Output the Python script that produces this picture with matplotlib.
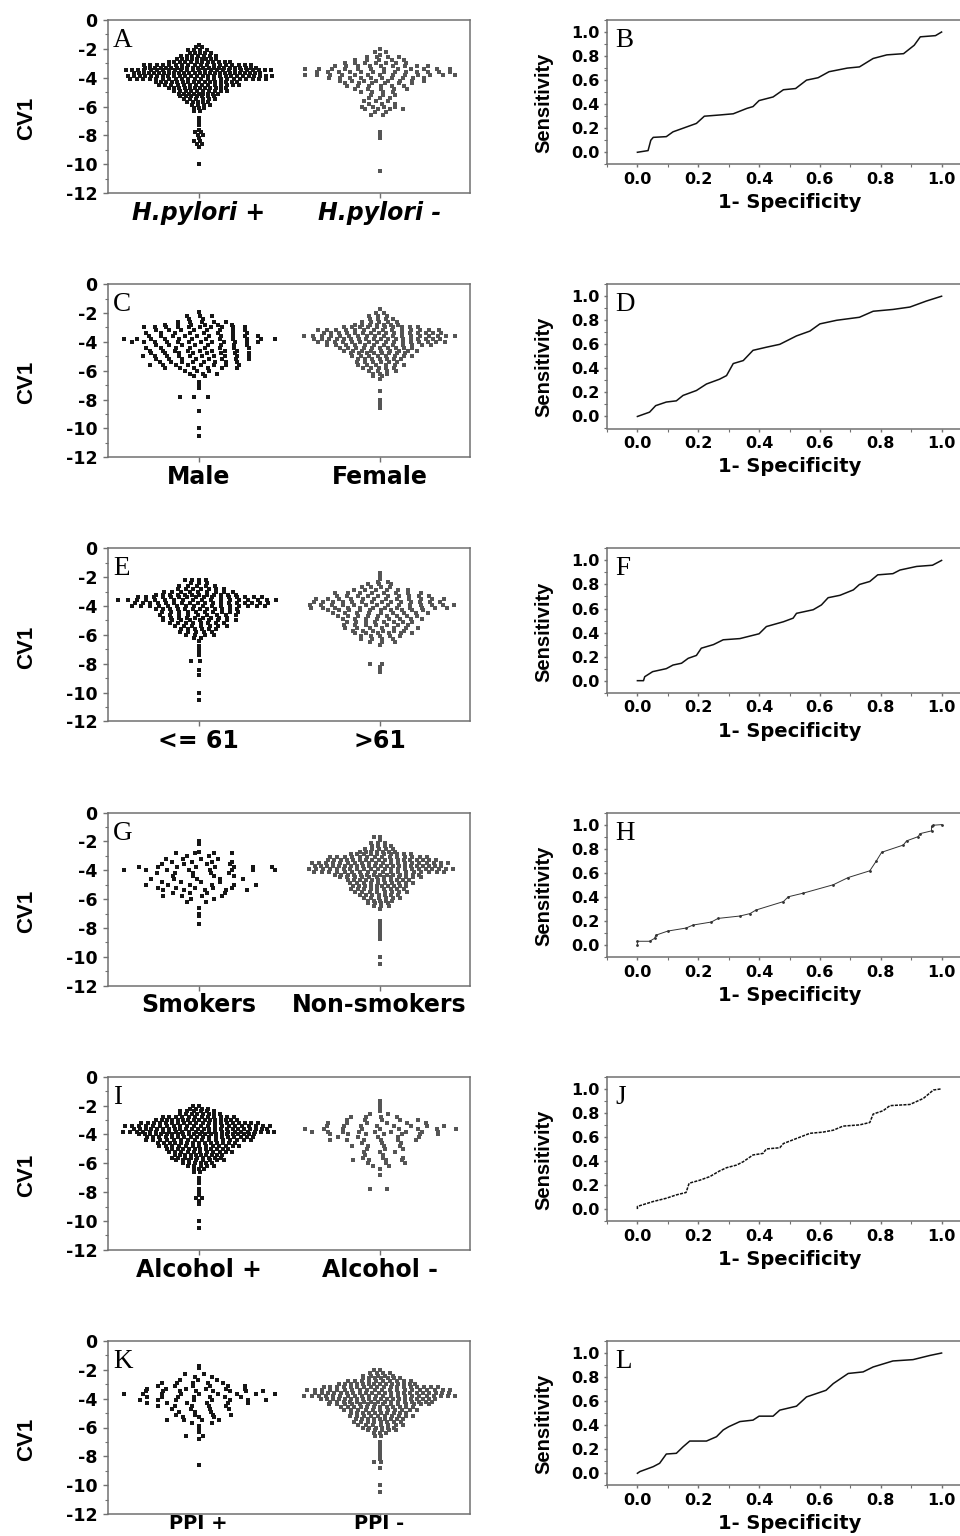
import numpy as np
import matplotlib
matplotlib.use("Agg")
import matplotlib.pyplot as plt
from matplotlib.ticker import MultipleLocator, FormatStrFormatter

plt.rcParams["axes.unicode_minus"] = False

# ---------------------------------------------------------------- data
LEFT_LETTERS = ["A", "C", "E", "G", "I", "K"]
RIGHT_LETTERS = ["B", "D", "F", "H", "J", "L"]
GROUP_NAMES = [
    ("H.pylori +", "H.pylori -"),
    ("Male", "Female"),
    ("<= 61", ">61"),
    ("Smokers", "Non-smokers"),
    ("Alcohol +", "Alcohol -"),
    ("PPI +", "PPI -"),
]

# CV1 level -> number of subjects
HP_POS = {-1.7: 1, -1.9: 2, -2.1: 4, -2.3: 5, -2.5: 7, -2.7: 9, -2.9: 12, -3.1: 18,
          -3.3: 22, -3.5: 25, -3.7: 26, -3.9: 26, -4.1: 22, -4.3: 16, -4.5: 14,
          -4.7: 12, -4.9: 10, -5.1: 9, -5.3: 7, -5.5: 6, -5.7: 5, -5.9: 4, -6.1: 3,
          -6.3: 2, -6.8: 1, -7.1: 1, -7.3: 1, -7.6: 1, -7.8: 2, -8.0: 2, -8.2: 1,
          -8.4: 2, -8.6: 2, -8.8: 1, -10.0: 1}
HP_NEG = {-2.0: 1, -2.2: 2, -2.4: 1, -2.6: 4, -2.8: 5, -3.0: 7, -3.2: 9, -3.4: 12,
          -3.6: 13, -3.8: 13, -4.0: 10, -4.2: 8, -4.4: 6, -4.6: 6, -4.8: 5, -5.0: 4,
          -5.2: 3, -5.4: 3, -5.6: 3, -5.8: 3, -6.0: 4, -6.2: 4, -6.4: 2, -6.6: 2,
          -7.8: 1, -8.0: 1, -8.2: 1, -10.5: 1}
MALE = {-1.9: 1, -2.2: 3, -2.4: 2, -2.6: 5, -2.8: 6, -3.0: 10, -3.2: 8, -3.4: 8,
        -3.6: 10, -3.8: 12, -4.0: 12, -4.2: 8, -4.4: 8, -4.6: 8, -4.8: 8, -5.0: 10,
        -5.2: 8, -5.4: 8, -5.6: 8, -5.8: 6, -6.0: 3, -6.2: 3, -6.4: 2, -6.8: 1,
        -7.0: 1, -7.2: 1, -7.8: 3, -8.8: 1, -10.0: 1, -10.5: 1}
FEMALE = {-1.7: 1, -2.0: 2, -2.2: 3, -2.4: 4, -2.6: 5, -2.8: 7, -3.0: 10, -3.2: 14,
          -3.4: 16, -3.6: 18, -3.8: 18, -4.0: 16, -4.2: 12, -4.4: 10, -4.6: 9,
          -4.8: 8, -5.0: 8, -5.2: 7, -5.4: 6, -5.6: 6, -5.8: 5, -6.0: 4, -6.2: 3,
          -6.4: 2, -6.6: 1, -7.4: 1, -8.0: 1, -8.2: 1, -8.4: 1, -8.6: 1}
AGE_LE61 = {-2.2: 4, -2.4: 3, -2.6: 5, -2.8: 7, -3.0: 9, -3.2: 12, -3.4: 16, -3.6: 18,
            -3.8: 18, -4.0: 16, -4.2: 12, -4.4: 10, -4.6: 9, -4.8: 9, -5.0: 9,
            -5.2: 8, -5.4: 7, -5.6: 6, -5.8: 5, -6.0: 4, -6.2: 2, -6.4: 1, -6.8: 1,
            -7.0: 1, -7.2: 1, -7.4: 1, -7.8: 2, -8.4: 1, -8.8: 1, -10.0: 1, -10.5: 1}
AGE_GT61 = {-1.7: 1, -1.9: 1, -2.1: 1, -2.3: 2, -2.5: 3, -2.7: 4, -2.9: 6, -3.1: 8,
            -3.3: 10, -3.5: 12, -3.7: 14, -3.9: 14, -4.1: 12, -4.3: 10, -4.5: 9,
            -4.7: 9, -4.9: 8, -5.1: 8, -5.3: 7, -5.5: 7, -5.7: 6, -5.9: 6, -6.1: 5,
            -6.3: 4, -6.5: 3, -6.7: 1, -8.0: 2, -8.2: 1, -8.4: 1, -8.6: 1}
SMOKERS = {-2.0: 1, -2.2: 1, -2.7: 1, -2.8: 4, -3.0: 2, -3.2: 4, -3.4: 4, -3.6: 4,
           -3.8: 8, -4.0: 8, -4.2: 5, -4.4: 4, -4.6: 5, -4.8: 4, -5.0: 6, -5.2: 5,
           -5.4: 5, -5.6: 4, -5.8: 4, -6.0: 2, -6.2: 2, -6.6: 1, -7.0: 1, -7.2: 1,
           -7.7: 1}
NON_SMOKERS = {-1.7: 2, -1.9: 1, -2.1: 3, -2.3: 4, -2.5: 5, -2.7: 7, -2.9: 10,
               -3.1: 14, -3.3: 18, -3.5: 20, -3.7: 22, -3.9: 22, -4.1: 18, -4.3: 14,
               -4.5: 12, -4.7: 11, -4.9: 10, -5.1: 10, -5.3: 9, -5.5: 8, -5.7: 7,
               -5.9: 6, -6.1: 5, -6.3: 4, -6.5: 3, -6.7: 1, -7.5: 1, -7.7: 1,
               -7.9: 1, -8.1: 1, -8.3: 1, -8.5: 1, -8.7: 1, -8.8: 1, -10.0: 1,
               -10.5: 1}
ALCOHOL_POS = {-2.0: 2, -2.2: 4, -2.4: 6, -2.6: 8, -2.8: 12, -3.0: 16, -3.2: 20,
               -3.4: 22, -3.6: 24, -3.8: 24, -4.0: 22, -4.2: 18, -4.4: 16, -4.6: 14,
               -4.8: 13, -5.0: 12, -5.2: 11, -5.4: 10, -5.6: 9, -5.8: 8, -6.0: 6,
               -6.2: 5, -6.4: 3, -6.6: 2, -7.0: 1, -7.2: 1, -7.4: 1, -7.8: 1,
               -8.0: 1, -8.2: 1, -8.4: 2, -8.6: 1, -8.8: 1, -10.0: 1, -10.5: 1}
ALCOHOL_NEG = {-1.7: 1, -1.9: 1, -2.1: 1, -2.4: 1, -2.6: 2, -2.8: 4, -3.0: 5, -3.2: 6,
               -3.4: 8, -3.6: 9, -3.8: 9, -4.0: 7, -4.2: 5, -4.4: 6, -4.6: 3, -4.8: 4,
               -5.0: 3, -5.2: 3, -5.4: 2, -5.6: 3, -5.8: 4, -6.0: 3, -6.2: 2, -6.4: 1,
               -6.8: 1, -7.8: 2}
PPI_POS = {-1.7: 1, -1.9: 1, -2.3: 2, -2.5: 2, -2.7: 3, -2.9: 5, -3.1: 6, -3.3: 6,
           -3.5: 8, -3.7: 9, -3.9: 7, -4.1: 8, -4.3: 6, -4.5: 5, -4.7: 4, -4.9: 3,
           -5.1: 4, -5.3: 3, -5.5: 4, -5.7: 2, -5.9: 1, -6.1: 1, -6.3: 1, -6.6: 2,
           -6.8: 1, -8.6: 1}
PPI_NEG = {-2.0: 2, -2.2: 4, -2.4: 5, -2.6: 7, -2.8: 10, -3.0: 14, -3.2: 18, -3.4: 20,
           -3.6: 22, -3.8: 22, -4.0: 20, -4.2: 16, -4.4: 14, -4.6: 12, -4.8: 11,
           -5.0: 10, -5.2: 10, -5.4: 9, -5.6: 8, -5.8: 7, -6.0: 6, -6.2: 5, -6.4: 3,
           -6.6: 2, -7.0: 1, -7.2: 1, -7.4: 1, -7.6: 1, -7.8: 1, -8.0: 1, -8.2: 1,
           -8.4: 2, -8.8: 1, -10.0: 1, -10.5: 1}

GROUPS = [(HP_POS, HP_NEG), (MALE, FEMALE), (AGE_LE61, AGE_GT61),
          (SMOKERS, NON_SMOKERS), (ALCOHOL_POS, ALCOHOL_NEG), (PPI_POS, PPI_NEG)]

# ROC curves (1 - specificity, sensitivity)
FPR_B = [0, 0.035, 0.044, 0.052, 0.095, 0.117, 0.15, 0.194, 0.22, 0.27, 0.315, 0.36,
         0.38, 0.40, 0.446, 0.48, 0.52, 0.556, 0.594, 0.63, 0.69, 0.73, 0.775, 0.82,
         0.875, 0.91, 0.93, 0.98, 1.0]
TPR_B = [0, 0.014, 0.10, 0.124, 0.13, 0.17, 0.20, 0.24, 0.30, 0.31, 0.32, 0.365,
         0.38, 0.43, 0.46, 0.52, 0.53, 0.60, 0.62, 0.67, 0.70, 0.71, 0.78, 0.81,
         0.82, 0.89, 0.96, 0.97, 1.0]
FPR_D = [0, 0.04, 0.06, 0.095, 0.128, 0.15, 0.194, 0.227, 0.27, 0.293, 0.315, 0.348,
         0.38, 0.424, 0.468, 0.523, 0.567, 0.60, 0.655, 0.73, 0.775, 0.84, 0.896,
         0.95, 1.0]
TPR_D = [0, 0.036, 0.09, 0.12, 0.13, 0.175, 0.216, 0.27, 0.31, 0.34, 0.44, 0.465,
         0.55, 0.576, 0.60, 0.67, 0.71, 0.77, 0.80, 0.825, 0.875, 0.89, 0.91, 0.96,
         1.0]
FPR_F = [0, 0.02, 0.024, 0.05, 0.095, 0.117, 0.145, 0.167, 0.194, 0.21, 0.25, 0.282,
         0.337, 0.40, 0.424, 0.48, 0.512, 0.523, 0.578, 0.605, 0.627, 0.666, 0.71,
         0.73, 0.764, 0.79, 0.84, 0.863, 0.918, 0.97, 1.0]
TPR_F = [0, 0, 0.033, 0.075, 0.10, 0.13, 0.145, 0.186, 0.21, 0.27, 0.30, 0.34, 0.35,
         0.39, 0.45, 0.49, 0.52, 0.56, 0.59, 0.63, 0.69, 0.71, 0.755, 0.80, 0.825,
         0.88, 0.89, 0.92, 0.95, 0.96, 1.0]
FPR_H = [0, 0, 0.04, 0.057, 0.06, 0.10, 0.16, 0.183, 0.243, 0.265, 0.337, 0.37, 0.39,
         0.48, 0.496, 0.545, 0.644, 0.693, 0.764, 0.786, 0.803, 0.874, 0.885, 0.923,
         0.929, 0.967, 0.967, 0.973, 1.0]
TPR_H = [0, 0.03, 0.03, 0.055, 0.08, 0.115, 0.14, 0.165, 0.19, 0.22, 0.24, 0.26,
         0.29, 0.36, 0.40, 0.43, 0.50, 0.56, 0.616, 0.70, 0.77, 0.83, 0.865, 0.90,
         0.925, 0.948, 0.986, 0.995, 1.0]
FPR_J = [0, 0, 0.052, 0.095, 0.128, 0.16, 0.17, 0.205, 0.238, 0.27, 0.293, 0.326,
         0.348, 0.38, 0.413, 0.424, 0.468, 0.48, 0.523, 0.567, 0.61, 0.644, 0.676,
         0.73, 0.764, 0.775, 0.808, 0.83, 0.896, 0.94, 0.973, 1.0]
TPR_J = [0, 0.022, 0.063, 0.09, 0.118, 0.138, 0.215, 0.24, 0.27, 0.317, 0.344,
         0.366, 0.394, 0.45, 0.463, 0.50, 0.51, 0.545, 0.587, 0.63, 0.64, 0.656,
         0.69, 0.70, 0.72, 0.79, 0.818, 0.86, 0.87, 0.92, 0.99, 1.0]
FPR_L = [0, 0.008, 0.052, 0.073, 0.095, 0.128, 0.15, 0.172, 0.227, 0.26, 0.282, 0.30,
         0.337, 0.38, 0.40, 0.446, 0.468, 0.523, 0.556, 0.62, 0.644, 0.693, 0.742,
         0.775, 0.84, 0.906, 0.962, 1.0]
TPR_L = [0, 0.014, 0.055, 0.083, 0.16, 0.166, 0.22, 0.268, 0.268, 0.304, 0.36,
         0.387, 0.43, 0.442, 0.475, 0.475, 0.525, 0.558, 0.635, 0.69, 0.746, 0.83,
         0.843, 0.884, 0.934, 0.945, 0.98, 1.0]

ROC = [(FPR_B, TPR_B), (FPR_D, TPR_D), (FPR_F, TPR_F),
       (FPR_H, TPR_H), (FPR_J, TPR_J), (FPR_L, TPR_L)]

# ---------------------------------------------------------------- style
W, H = 960, 1536
ROW_TOP, ROW_STEP = 20, 264.2
DARK, GREY = "#161616", "#555555"
SPINE = "#707070"
BOLD = "DejaVu Sans"


def px_axes(fig, left, top, width, height):
    return fig.add_axes([left / W, 1 - (top + height) / H, width / W, height / H])


def frame(ax):
    for s in ax.spines.values():
        s.set_color(SPINE)
        s.set_linewidth(1.1)


def swarm(ax, xc, counts, color, half=0.39):
    """Spread each CV1 level into a row; spacing and offset vary a little from
    row to row so the dots don't form straight columns."""
    nmax = max(counts.values())
    dx = 2 * half / (nmax - 1)
    xs, ys = [], []
    for k, (lvl, n) in enumerate(counts.items()):
        step = dx * (0.85 + 0.3 * ((k * 0.4142) % 1))
        shift = ((k * 0.618) % 1 - 0.5) * dx * 0.8 if n > 1 else 0.0
        xs.extend(xc + (np.arange(n) - (n - 1) / 2) * step + shift)
        ys.extend([lvl] * n)
    ax.scatter(xs, ys, s=6.5, marker="s", color=color, linewidths=0)


fig = plt.figure(figsize=(W / 100, H / 100), dpi=100)

for i in range(6):
    top = ROW_TOP + i * ROW_STEP
    last = i == 5

    # dot plot of CV1
    ax = px_axes(fig, 108, top, 362, 173)
    frame(ax)
    g1, g2 = GROUPS[i]
    swarm(ax, 0, g1, DARK)
    swarm(ax, 1, g2, GREY)
    ax.set_xlim(-0.5, 1.5)
    ax.set_ylim(-12, 0)
    ax.yaxis.set_major_locator(MultipleLocator(2))
    ax.yaxis.set_minor_locator(MultipleLocator(1))
    ax.yaxis.set_major_formatter(FormatStrFormatter("%d"))
    ax.tick_params(axis="y", which="major", length=3.6, width=1, pad=4,
                   labelsize=12.5, color=SPINE)
    ax.tick_params(axis="y", which="minor", length=2, width=0.8, color=SPINE)
    ax.set_xticks([0, 1])
    ax.set_xticklabels(GROUP_NAMES[i])
    ax.tick_params(axis="x", length=3.6, width=1, pad=-3.5 if last else 2,
                   labelsize=14 if last else 17, color=SPINE)
    for lab in ax.get_yticklabels():
        lab.set_fontfamily(BOLD)
        lab.set_fontweight("bold")
    for lab in ax.get_xticklabels():
        lab.set_fontfamily(BOLD)
        lab.set_fontweight("bold")
        if i == 0:
            lab.set_fontstyle("italic")
    ax.set_ylabel("CV1", fontsize=16, fontweight="bold", family="Liberation Sans")
    ax.yaxis.set_label_coords(-0.196, 0.43)
    ax.text(0.014, 0.844, LEFT_LETTERS[i], transform=ax.transAxes,
            family="Liberation Serif", fontsize=19.5, va="baseline", ha="left")

    # ROC curve
    rx = px_axes(fig, 607, top, 365, 144.3)
    frame(rx)
    fpr, tpr = ROC[i]
    if RIGHT_LETTERS[i] == "H":
        rx.plot(fpr, tpr, color="#333333", lw=0.7, marker=".", ms=2)
    elif RIGHT_LETTERS[i] == "J":
        rx.plot(fpr, tpr, color="#111111", lw=1.1, ls=(0, (2, 0.8)))
    else:
        rx.plot(fpr, tpr, color="#111111", lw=1.1)
    rx.set_xlim(-0.1, 1.1)
    rx.set_ylim(-0.1, 1.1)
    for axis in (rx.xaxis, rx.yaxis):
        axis.set_major_locator(MultipleLocator(0.2))
        axis.set_minor_locator(MultipleLocator(0.1))
        axis.set_major_formatter(FormatStrFormatter("%.1f"))
    rx.tick_params(which="major", length=2.5, width=1, pad=3, labelsize=11.5,
                   color=SPINE)
    rx.tick_params(which="minor", length=2, width=0.8, color=SPINE)
    for lab in rx.get_xticklabels() + rx.get_yticklabels():
        lab.set_fontfamily(BOLD)
        lab.set_fontweight("bold")
    rx.set_ylabel("Sensitivity", fontsize=14.5, fontweight="bold",
                  family="Liberation Sans")
    rx.yaxis.set_label_coords(-0.148, 0.425)
    rx.set_xlabel("1- Specificity", fontsize=14, fontweight="bold", family=BOLD)
    rx.xaxis.set_label_coords(0.5, -0.2)
    rx.text(0.022, 0.813, RIGHT_LETTERS[i], transform=rx.transAxes,
            family="Liberation Serif", fontsize=19.5, va="baseline", ha="left")

fig.savefig("out.png", dpi=100)
